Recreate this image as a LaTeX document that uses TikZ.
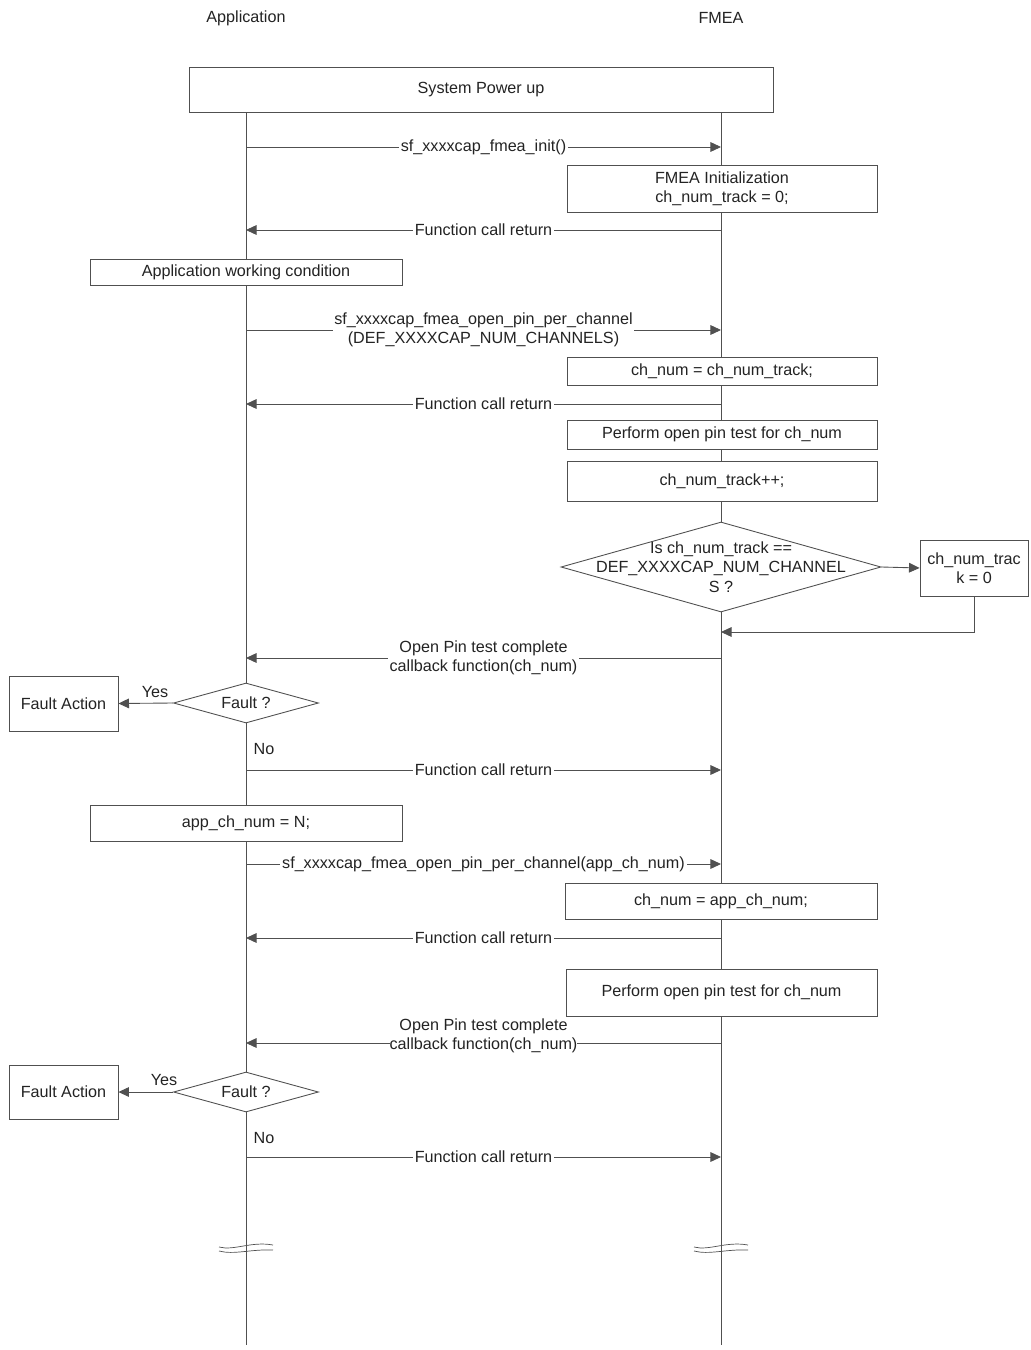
\documentclass[tikz,border=0pt]{standalone}
\usepackage{fontspec}
\setmainfont{Liberation Sans}
\usetikzlibrary{arrows.meta,positioning,shapes.geometric,backgrounds}
\definecolor{LineGray}{RGB}{80,80,80}
\definecolor{TextGray}{RGB}{35,35,35}

\begin{document}
\begin{tikzpicture}[x=0.2mm,y=-0.2mm,>={Triangle[length=6pt,width=5.5pt]},
    font=\fontsize{9.2}{11}\selectfont,text=TextGray,
    box/.style={draw=LineGray,fill=white,line width=0.5pt,inner sep=1pt,align=center},
    ask/.style={diamond,draw=LineGray,fill=white,line width=0.5pt,inner sep=0pt},
    msg/.style={->,draw=LineGray,line width=0.5pt},
    lbl/.style={fill=white,inner sep=1pt,align=center},
    life/.style={draw=LineGray,line width=0.5pt}]
  \useasboundingbox (0,0) rectangle (1031,1350);

  % lifeline heads
  \node (app) at (246,18) {Application};
  \node (fmea) at (721,18) {FMEA};

  % boxes
  \node[box,minimum width=116.8mm,minimum height=9mm] (power) at (481,89.5) {System Power up};
  \node[box,minimum width=62mm,minimum height=9.4mm] (init) at (722,188.5) {FMEA Initialization\\ch\_num\_track = 0;};
  \node[box,minimum width=62.4mm,minimum height=5.2mm] (work) at (246,272) {Application working condition};
  \node[box,minimum width=62mm,minimum height=5.6mm] (chnum) at (722,371) {ch\_num = ch\_num\_track;};
  \node[box,minimum width=62mm,minimum height=5.8mm] (test1) at (722,434.5) {Perform open pin test for ch\_num};
  \node[box,minimum width=62mm,minimum height=8mm] (incr) at (722,481) {ch\_num\_track++;};
  \node[ask,minimum width=64mm,minimum height=18mm,
    label={[align=center]center:Is ch\_num\_track ==\\DEF\_XXXXCAP\_NUM\_CHANNEL\\S ?}] (check) at (721,567) {};
  \node[box,minimum width=21.6mm,minimum height=11.2mm] (reset) at (974,568) {ch\_num\_trac\\k = 0};
  \node[ask,minimum width=29mm,minimum height=8mm,label={center:Fault ?}] (fault1) at (246,703) {};
  \node[box,minimum width=21.8mm,minimum height=11mm] (act1) at (63.5,703.5) {Fault Action};
  \node[box,minimum width=62.4mm,minimum height=7.2mm] (appch) at (246,823) {app\_ch\_num = N;};
  \node[box,minimum width=62.4mm,minimum height=7.2mm] (chnum2) at (721,901) {ch\_num = app\_ch\_num;};
  \node[box,minimum width=62.2mm,minimum height=9.4mm] (test2) at (721.5,992.5) {Perform open pin test for ch\_num};
  \node[ask,minimum width=29mm,minimum height=8mm,label={center:Fault ?}] (fault2) at (246,1092) {};
  \node[box,minimum width=21.8mm,minimum height=10.8mm] (act2) at (63.5,1092) {Fault Action};

  \node (yes1) at (155,692) {Yes};
  \node (no1) at (264,749) {No};
  \node (yes2) at (164,1080) {Yes};
  \node (no2) at (264,1138) {No};

  % lifelines
  \coordinate (appEnd) at (246,1345);
  \coordinate (fmeaEnd) at (721,1345);
  \begin{scope}[on background layer]
    \draw[life] (app |- power.south) -- (appEnd);
    \draw[life] (fmea |- power.south) -- (fmeaEnd);
  \end{scope}

  % messages
  \draw[msg] (app |- 0,147) -- node[lbl]{sf\_xxxxcap\_fmea\_init()} (fmea |- 0,147);
  \draw[msg] (fmea |- 0,230) -- node[lbl]{Function call return} (app |- 0,230);
  \draw[msg] (app |- 0,330) -- node[lbl]{sf\_xxxxcap\_fmea\_open\_pin\_per\_channel\\(DEF\_XXXXCAP\_NUM\_CHANNELS)} (fmea |- 0,330);
  \draw[msg] (fmea |- 0,404) -- node[lbl]{Function call return} (app |- 0,404);
  \draw[msg] (check.east) -- (reset.west);
  \draw[msg] (reset.south) |- (fmea |- 0,632);
  \draw[msg] (fmea |- 0,658) -- node[lbl]{Open Pin test complete\\callback function(ch\_num)} (app |- 0,658);
  \draw[msg] (fault1.west) -- (act1.east);
  \draw[msg] (app |- 0,770) -- node[lbl]{Function call return} (fmea |- 0,770);
  \draw[msg] (app |- 0,864) -- node[lbl]{sf\_xxxxcap\_fmea\_open\_pin\_per\_channel(app\_ch\_num)} (fmea |- 0,864);
  \draw[msg] (fmea |- 0,938) -- node[lbl]{Function call return} (app |- 0,938);
  \draw[msg] (fmea |- 0,1043) -- node[lbl,inner sep=0pt,yshift=1.4mm]{Open Pin test complete\\callback function(ch\_num)} (app |- 0,1043);
  \draw[msg] (fault2.west) -- (act2.east);
  \draw[msg] (app |- 0,1157) -- node[lbl]{Function call return} (fmea |- 0,1157);

  % break marks
  \foreach \lx in {246,721} {
    \draw[LineGray,line width=0.4pt] (\lx-27,1247) .. controls (\lx-12,1251) and (\lx+5,1241) .. (\lx+27,1245);
    \draw[LineGray,line width=0.4pt] (\lx-27,1251) .. controls (\lx-12,1255) and (\lx+5,1249) .. (\lx+27,1250);
  }
\end{tikzpicture}
\end{document}
